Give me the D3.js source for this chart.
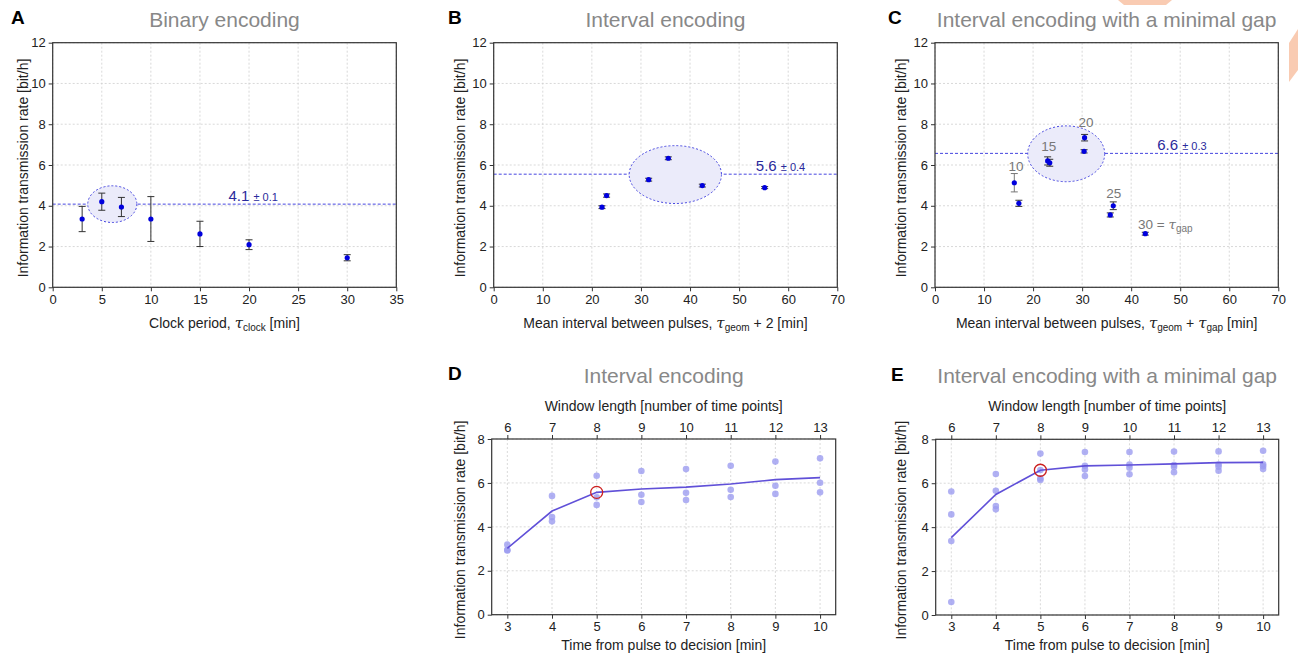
<!DOCTYPE html>
<html><head><meta charset="utf-8">
<script src="https://cdn.jsdelivr.net/npm/d3@7"></script>
<style>
body{margin:0;background:#fff;}
svg{display:block;font-family:"Liberation Sans",Arial,Helvetica,sans-serif;}
</style></head>
<body><svg id="c" width="1298" height="655"></svg>
<script>
// ---------- data ----------
const aClock = [3, 5, 7, 10, 15, 20, 30];
const aRate  = [3.35, 4.2, 3.94, 3.35, 2.62, 2.09, 1.45];
const aErr   = [0.62, 0.42, 0.47, 1.1, 0.62, 0.24, 0.15];
const aMean = 4.08, aMeanLabel = "4.1", aMeanErr = "± 0.1";

const bInterval = [22.06, 23.0, 31.57, 35.57, 42.5, 55.2];
const bRate     = [3.93, 4.5, 5.28, 6.33, 4.99, 4.89];
const bErr      = [0.07, 0.08, 0.07, 0.07, 0.07, 0.05];
const bMean = 5.55, bMeanLabel = "5.6", bMeanErr = "± 0.4";

const cInterval = [16.17, 17.1, 22.97, 23.4, 30.5, 30.4, 35.74, 36.35, 42.88];
const cRate     = [5.13, 4.12, 6.2, 6.11, 7.34, 6.67, 3.55, 4.0, 2.63];
const cErr      = [0.45, 0.15, 0.2, 0.17, 0.16, 0.08, 0.1, 0.19, 0.07];
const cMean = 6.57, cMeanLabel = "6.6", cMeanErr = "± 0.3";
const cGapLabels = ["10", "15", "20", "25", "30"];

const timeToDecision = [3, 4, 5, 6, 7, 8, 9, 10];
const windowLength   = [6, 7, 8, 9, 10, 11, 12, 13];
const dRuns = [[3.19,2.95,2.92],[5.41,4.45,4.25],[6.33,5.35,5.0],[6.54,5.46,5.13],
               [6.63,5.55,5.22],[6.78,5.69,5.36],[6.97,5.87,5.5],[7.12,6.01,5.57]];
const dMean = [3.02, 4.72, 5.57, 5.72, 5.81, 5.95, 6.15, 6.24];
const eRuns = [[5.62,4.58,3.37,0.59],[6.42,5.66,4.96,4.81],[7.35,6.6,6.22,6.15],[7.42,6.79,6.63,6.33],
               [7.42,6.85,6.71,6.41],[7.44,6.83,6.74,6.5],[7.45,6.85,6.75,6.57],[7.48,6.86,6.77,6.65]];
const eMean = [3.52, 5.49, 6.59, 6.79, 6.83, 6.88, 6.94, 6.95];
const chosenIndex = 2; // 5 min / window 8

// ---------- drawing ----------
const svg = d3.select("#c");
const TITLE = "#888888", TXT = "#222222", BLUE = "#0000dd", MEANC = "#4646e0", LBL = "#2a2a9c";

// decorative orange watermark fragments
svg.append("polygon").attr("points","1118,0 1172,0 1166,5 1124,5").attr("fill","#f9cbb2");
svg.append("polygon").attr("points","1289,43 1298,29 1298,70 1289,82").attr("fill","#f9cbb2");

function panel(o) {
  const g = svg.append("g");
  const x = d3.scaleLinear().domain(o.xd).range([o.l, o.r]);
  const y = d3.scaleLinear().domain(o.yd).range([o.b, o.t]);
  // grid
  g.append("g").selectAll("line").data(o.xt).join("line")
    .attr("x1", d => x(d)).attr("x2", d => x(d)).attr("y1", o.t).attr("y2", o.b)
    .attr("stroke", "#cfcfcf").attr("stroke-width", 0.8).attr("stroke-dasharray", "2,2");
  g.append("g").selectAll("line").data(o.yt).join("line")
    .attr("y1", d => y(d)).attr("y2", d => y(d)).attr("x1", o.l).attr("x2", o.r)
    .attr("stroke", "#cfcfcf").attr("stroke-width", 0.8).attr("stroke-dasharray", "2,2");
  // axes
  const ax = g.append("g").attr("transform", `translate(0,${o.b})`)
    .call(d3.axisBottom(x).tickValues(o.xt).tickSize(4).tickPadding(3).tickFormat(d3.format("d")));
  const ay = g.append("g").attr("transform", `translate(${o.l},0)`)
    .call(d3.axisLeft(y).tickValues(o.yt).tickSize(4).tickPadding(3).tickFormat(d3.format("d")));
  [ax, ay].forEach(a => {
    a.select(".domain").remove();
    a.selectAll("line").attr("stroke", "#333");
    a.selectAll("text").attr("font-size", 13).attr("fill", TXT).attr("font-family", "Liberation Sans, Arial, sans-serif");
  });
  // y label
  g.append("text").attr("transform", `translate(${o.ylx},${(o.t + o.b) / 2 + 3}) rotate(-90)`)
    .attr("text-anchor", "middle").attr("dy", "0.35em").attr("font-size", 14).attr("fill", TXT)
    .text("Information transmission rate [bit/h]");
  // titles
  g.append("text").attr("x", (o.l + o.r) / 2).attr("y", o.titleY).attr("text-anchor", "middle")
    .attr("font-size", 21).attr("fill", TITLE).text(o.title);
  g.append("text").attr("x", o.letterX).attr("y", o.letterY).attr("font-size", 19)
    .attr("font-weight", "bold").attr("fill", "#000").text(o.letter);
  g.frame = () => g.append("rect").attr("x", o.l).attr("y", o.t).attr("width", o.r - o.l).attr("height", o.b - o.t)
    .attr("fill", "none").attr("stroke", "#333").attr("stroke-width", 1.2);
  return {g, x, y};
}

function xlabel(g, cx, yy, parts) {
  const t = g.append("text").attr("x", cx).attr("y", yy).attr("text-anchor", "middle")
    .attr("font-size", 14).attr("fill", TXT);
  parts.forEach(p => {
    const s = t.append("tspan").text(p.t);
    if (p.it) s.attr("font-style", "italic").attr("font-family", "DejaVu Serif, serif").attr("font-size", 15);
    if (p.sub) s.attr("font-size", 10).attr("baseline-shift", "-25%");
  });
  return t;
}

function meanDecor(P, o, meanV, lab, err, ell, labX) {
  const {g, x, y} = P;
  g.append("line").attr("x1", o.l).attr("x2", o.r).attr("y1", y(meanV)).attr("y2", y(meanV))
    .attr("stroke", MEANC).attr("stroke-width", 1).attr("stroke-dasharray", "3,2");
  g.append("ellipse").attr("cx", x(ell[0])).attr("cy", y(ell[1]))
    .attr("rx", x(ell[0] + ell[2]) - x(ell[0])).attr("ry", y(ell[1] - ell[3]) - y(ell[1]))
    .attr("fill", "#ebebfa").attr("stroke", MEANC).attr("stroke-width", 1).attr("stroke-dasharray", "2,2");
  const t = g.append("text").attr("x", x(labX)).attr("y", y(meanV) - 3.5).attr("fill", LBL);
  t.append("tspan").attr("font-size", 15).text(lab + " ");
  t.append("tspan").attr("font-size", 11).text(err);
}

function errPoints(P, xs, ys, es, colors) {
  const {g, x, y} = P;
  const d = xs.map((v, i) => ({x: v, y: ys[i], e: es[i], c: colors ? colors[i] : "#333"}));
  const eg = g.append("g");
  d.forEach(p => {
    const X = x(p.x);
    eg.append("line").attr("x1", X).attr("x2", X).attr("y1", y(p.y - p.e)).attr("y2", y(p.y + p.e)).attr("stroke", p.c).attr("stroke-width", 1);
    [p.y - p.e, p.y + p.e].forEach(v => eg.append("line").attr("x1", X - 3.5).attr("x2", X + 3.5)
      .attr("y1", y(v)).attr("y2", y(v)).attr("stroke", p.c).attr("stroke-width", 1));
  });
  g.append("g").selectAll("circle").data(d).join("circle")
    .attr("cx", p => x(p.x)).attr("cy", p => y(p.y)).attr("r", 2.6).attr("fill", BLUE);
}

// ---------- Panel A ----------
const oA = {l: 52.7, r: 396.3, t: 42.7, b: 287.3, xd: [0, 35], yd: [0, 12],
  xt: d3.range(0, 36, 5), yt: d3.range(0, 13, 2), ylx: 23, title: "Binary encoding", titleY: 27,
  letter: "A", letterX: 11, letterY: 24};
const PA = panel(oA);
meanDecor(PA, oA, aMean, aMeanLabel, aMeanErr, [6.07, 4.08, 2.5, 0.9], 17.9);
errPoints(PA, aClock, aRate, aErr);
PA.g.frame();
xlabel(PA.g, (oA.l + oA.r) / 2, 328, [{t: "Clock period, "}, {t: "τ", it: 1}, {t: "clock", sub: 1}, {t: " [min]"}]);

// ---------- Panel B ----------
const oB = {l: 493.7, r: 837.3, t: 42.7, b: 287.3, xd: [0, 70], yd: [0, 12],
  xt: d3.range(0, 71, 10), yt: d3.range(0, 13, 2), ylx: 460, title: "Interval encoding", titleY: 27,
  letter: "B", letterX: 448, letterY: 24};
const PB = panel(oB);
meanDecor(PB, oB, bMean, bMeanLabel, bMeanErr, [37.0, 5.53, 9.4, 1.42], 53.4);
errPoints(PB, bInterval, bRate, bErr);
PB.g.frame();
xlabel(PB.g, (oB.l + oB.r) / 2, 328, [{t: "Mean interval between pulses, "}, {t: "τ", it: 1}, {t: "geom", sub: 1}, {t: " + 2 [min]"}]);

// ---------- Panel C ----------
const oC = {l: 935, r: 1278.3, t: 42.7, b: 287.3, xd: [0, 70], yd: [0, 12],
  xt: d3.range(0, 71, 10), yt: d3.range(0, 13, 2), ylx: 901, title: "Interval encoding with a minimal gap", titleY: 27,
  letter: "C", letterX: 888, letterY: 24};
const PC = panel(oC);
meanDecor(PC, oC, cMean, cMeanLabel, cMeanErr, [26.75, 6.55, 7.85, 1.37], 45.3);
errPoints(PC, cInterval, cRate, cErr, cInterval.map((v, i) => i === 0 ? "#777" : "#333"));
PC.g.frame();
xlabel(PC.g, (oC.l + oC.r) / 2, 328, [{t: "Mean interval between pulses, "}, {t: "τ", it: 1}, {t: "geom", sub: 1},
  {t: " + "}, {t: "τ", it: 1}, {t: "gap", sub: 1}, {t: " [min]"}]);
// gap annotations
const gapPos = [[16.5, 5.72, "middle"], [23.18, 6.69, "middle"], [30.8, 7.87, "middle"], [36.43, 4.37, "middle"], [41.4, 2.86, "start"]];
cGapLabels.forEach((s, i) => {
  const t = PC.g.append("text").attr("x", PC.x(gapPos[i][0])).attr("y", PC.y(gapPos[i][1]))
    .attr("text-anchor", gapPos[i][2]).attr("font-size", 13.5).attr("fill", "#777");
  t.append("tspan").text(s);
  if (i === cGapLabels.length - 1) {
    t.append("tspan").text(" = ");
    t.append("tspan").attr("font-style", "italic").attr("font-family", "DejaVu Serif, serif").text("τ");
    t.append("tspan").attr("font-size", 10).attr("baseline-shift", "-25%").text("gap");
  }
});

// ---------- Panels D & E ----------
function windowPanel(o, runs, mean) {
  const P = panel(o);
  const {g, x, y} = P;
  // top axis
  const xt = d3.scaleLinear().domain(o.xd).range([o.l, o.r]);
  const at = g.append("g").attr("transform", `translate(0,${o.t})`)
    .call(d3.axisTop(xt).tickValues(timeToDecision).tickSize(4).tickPadding(3)
      .tickFormat((d, i) => windowLength[i]));
  at.select(".domain").remove();
  at.selectAll("line").attr("stroke", "#333");
  at.selectAll("text").attr("font-size", 13).attr("fill", TXT).attr("font-family", "Liberation Sans, Arial, sans-serif");
  g.append("text").attr("x", (o.l + o.r) / 2).attr("y", o.t - 28).attr("text-anchor", "middle")
    .attr("font-size", 14).attr("fill", TXT).text("Window length [number of time points]");
  // points
  const pts = [];
  runs.forEach((r, i) => r.forEach(v => pts.push({x: timeToDecision[i], y: v})));
  g.append("g").selectAll("circle").data(pts).join("circle")
    .attr("cx", d => x(d.x)).attr("cy", d => y(d.y)).attr("r", 3.3)
    .attr("fill", "#9c9cf0").attr("fill-opacity", 0.8);
  // mean line
  g.append("path").datum(mean.map((v, i) => [timeToDecision[i], v]))
    .attr("d", d3.line().x(d => x(d[0])).y(d => y(d[1])))
    .attr("fill", "none").attr("stroke", "#6050d8").attr("stroke-width", 1.6);
  g.append("circle").attr("cx", x(timeToDecision[chosenIndex])).attr("cy", y(mean[chosenIndex]))
    .attr("r", 6).attr("fill", "none").attr("stroke", "#cc2020").attr("stroke-width", 1.3);
  g.frame();
  xlabel(g, (o.l + o.r) / 2, 650, [{t: "Time from pulse to decision [min]"}]);
  return P;
}
windowPanel({l: 491.7, r: 835.7, t: 439, b: 614.7, xd: [2.65, 10.35], yd: [0, 8],
  xt: timeToDecision, yt: d3.range(0, 9, 2), ylx: 460, title: "Interval encoding", titleY: 383,
  letter: "D", letterX: 448, letterY: 380}, dRuns, dMean);
windowPanel({l: 935.7, r: 1278.7, t: 439.3, b: 615, xd: [2.65, 10.35], yd: [0, 8],
  xt: timeToDecision, yt: d3.range(0, 9, 2), ylx: 901, title: "Interval encoding with a minimal gap", titleY: 383,
  letter: "E", letterX: 891, letterY: 381}, eRuns, eMean);
</script></body></html>
